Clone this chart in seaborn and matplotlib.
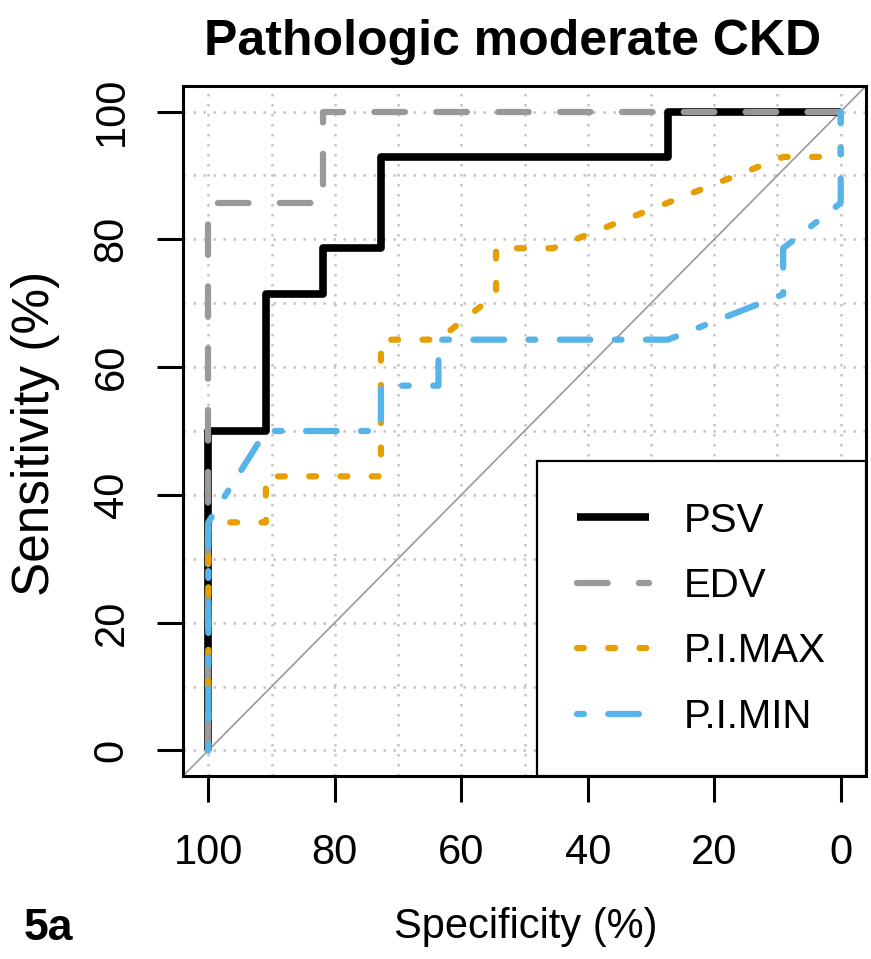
import matplotlib
matplotlib.use("Agg")
import matplotlib.pyplot as plt
import seaborn as sns

# ROC curves (specificity %, sensitivity %)
psv_spec = [100, 100, 90.9, 90.9, 81.8, 81.8, 72.7, 72.7, 27.3, 27.3, 0]
psv_sens = [0, 50, 50, 71.4, 71.4, 78.6, 78.6, 92.9, 92.9, 100, 100]

edv_spec = [100, 100, 81.8, 81.8, 0]
edv_sens = [0, 85.7, 85.7, 100, 100]

pimax_spec = [100, 100, 90.9, 90.9, 72.7, 72.7, 63.6, 54.5, 54.5, 45.5, 9.1, 0, 0]
pimax_sens = [0, 35.7, 35.7, 42.9, 42.9, 64.3, 64.3, 71.4, 78.6, 78.6, 92.9, 92.9, 100]

pimin_spec = [100, 100, 90.9, 72.7, 72.7, 63.6, 63.6, 27.3, 9.1, 9.1, 0, 0]
pimin_sens = [0, 35.7, 50, 50, 57.1, 57.1, 64.3, 64.3, 71.4, 78.6, 85.7, 100]

labels = ["PSV", "EDV", "P.I.MAX", "P.I.MIN"]
colors = ["#000000", "#999999", "#E69F00", "#56B4E9"]
ticks = [0, 20, 40, 60, 80, 100]

sns.set_theme(style="white")
plt.rcParams["font.family"] = ["Liberation Sans", "DejaVu Sans"]
plt.rcParams["text.color"] = "black"
plt.rcParams["xtick.color"] = "black"
plt.rcParams["ytick.color"] = "black"

fig = plt.figure(figsize=(8.71, 9.59), dpi=100)
ax = fig.add_axes([183 / 871, 1 - 776 / 959, 683 / 871, 690 / 959])

# dash patterns in units of line width (round caps lengthen each dash)
styles = [
    dict(lw=5.5, linestyle="-"),
    dict(lw=4.5, linestyle=(0, (4.9, 5.0))),
    dict(lw=4.5, linestyle=(0, (1.1, 3.9))),
    dict(lw=4.5, linestyle=(0, (1.1, 3.9, 4.9, 3.9))),
]
series = [(psv_spec, psv_sens), (edv_spec, edv_sens),
          (pimax_spec, pimax_sens), (pimin_spec, pimin_sens)]

ax.axline((100, 0), (0, 100), color="#999999", lw=1.2, zorder=1)

for (xs, ys), lab, col, st in zip(series, labels, colors, styles):
    sns.lineplot(x=xs, y=ys, sort=False, estimator=None, color=col,
                 label=lab, ax=ax, zorder=3, **st)

for ln in ax.lines:
    ln.set_dash_capstyle("round")
    ln.set_solid_capstyle("butt")

ax.set_xlim(104, -4)
ax.set_ylim(-4, 104)
ax.set_xticks(ticks)
ax.set_yticks(ticks)
ax.set_xticks(range(0, 101, 10), minor=True)
ax.set_yticks(range(0, 101, 10), minor=True)
ax.grid(which="both", color="#c4c4c4", linestyle=(0, (1, 3)), lw=1.8)
ax.set_axisbelow(True)

for s in ax.spines.values():
    s.set_color("black")
    s.set_linewidth(2.2)

ax.tick_params(axis="both", which="major", direction="out", length=19,
               width=2.2, color="black", labelsize=30, bottom=True, left=True)
ax.tick_params(axis="both", which="minor", length=0)
ax.tick_params(axis="x", pad=22)
ax.tick_params(axis="y", pad=18, labelrotation=90)
for t in ax.get_yticklabels():
    t.set_va("center")

ax.set_xlabel("")
ax.set_ylabel("")

leg = ax.legend(loc="lower right", borderaxespad=0, fontsize=29, frameon=True,
                fancybox=False, framealpha=1, edgecolor="black",
                handlelength=1.8, handletextpad=0.85, borderpad=1.0,
                labelspacing=0.68)
leg.get_frame().set_linewidth(1.6)

fig.text(513 / 871, 1 - 42 / 959, "Pathologic moderate CKD", fontsize=36,
         fontweight="bold", ha="center", va="center")
fig.text(526 / 871, 1 - 927 / 959, "Specificity (%)", fontsize=30,
         ha="center", va="center")
fig.text(36 / 871, 1 - 433 / 959, "Sensitivity (%)", fontsize=37,
         ha="center", va="center", rotation=90)
fig.text(48 / 871, 1 - 928 / 959, "5a", fontsize=32, fontweight="bold",
         ha="center", va="center")

fig.savefig("out.png", dpi=100)
